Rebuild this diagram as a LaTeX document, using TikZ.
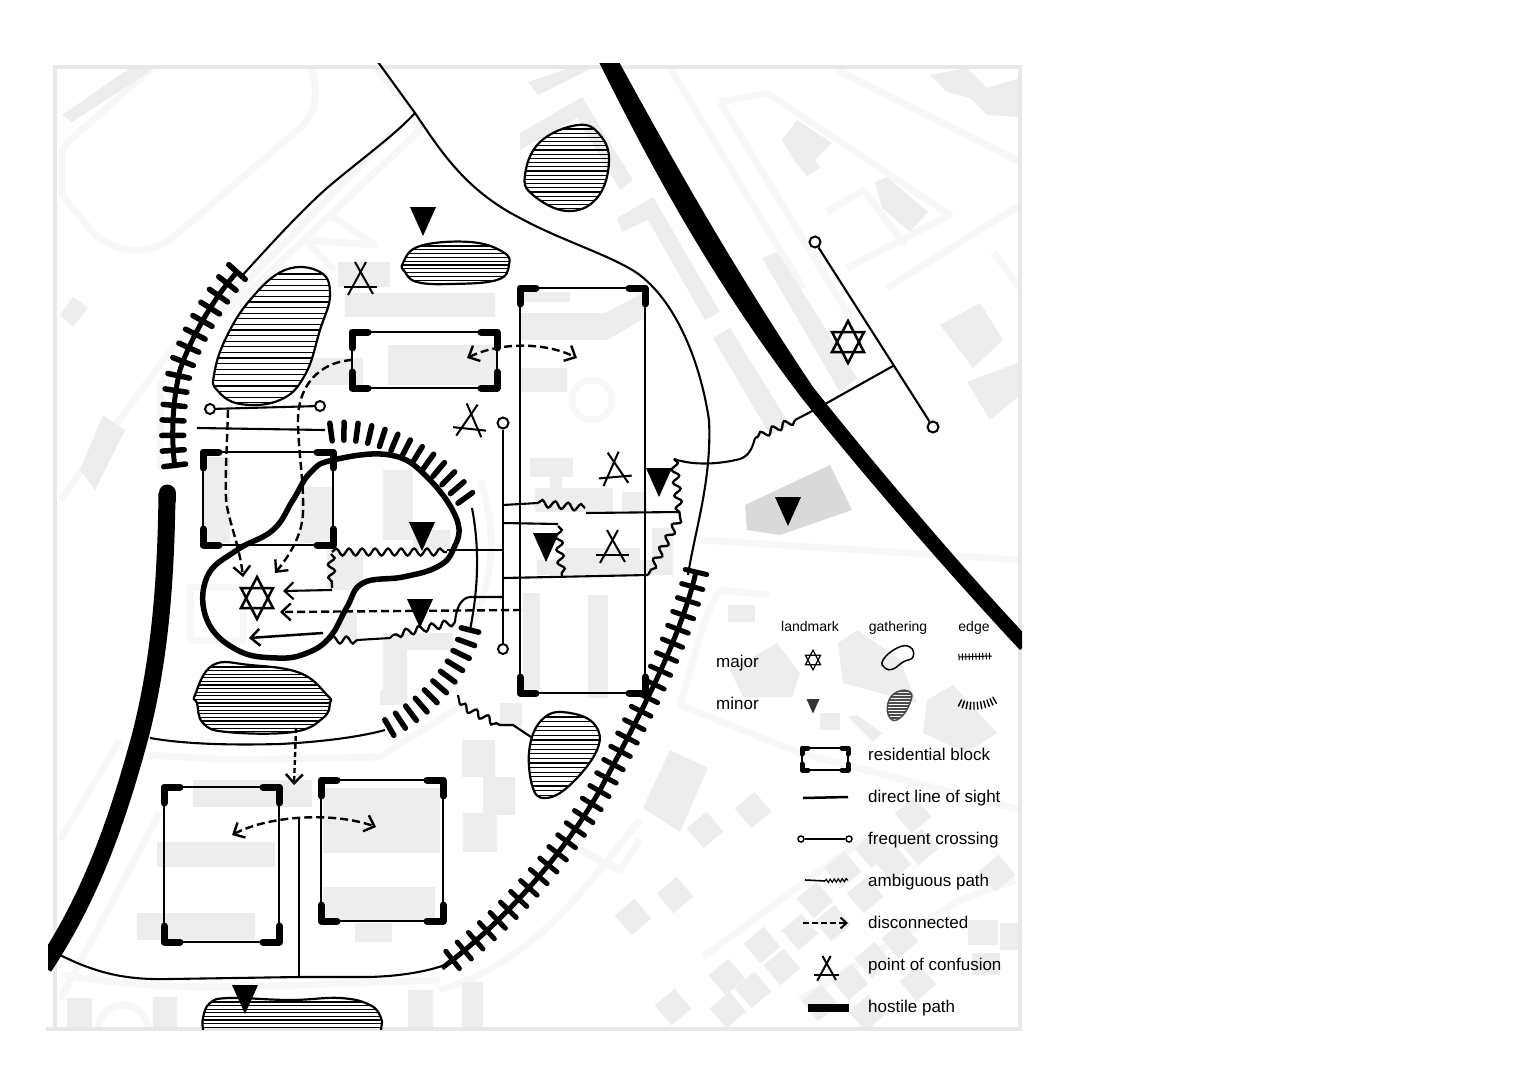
\documentclass[tikz,border=0pt]{standalone}
\usepackage{fontspec}
\setmainfont{Liberation Sans}
\usetikzlibrary{arrows.meta, decorations.markings, decorations.pathmorphing}
\tikzset{
    bldg/.style = {fill = black!7},
    bldgdark/.style = {fill = black!15},
    road/.style = {draw = black!3, line width = 7, line join = round},
    sight/.style = {draw, line width = 2.1},
    thinline/.style = {draw, line width = 1.5},
    hostile/.style = {fill = black},
    ambig/.style = {draw, line width = 2.3, decorate, decoration = {snake, segment length = 13, amplitude = 3.5}},
    discon/.style = {draw, line width = 2.4, dash pattern = on 8pt off 4pt, ->},
    crossend/.style = {circle, draw, fill = white, line width = 2, minimum size = 11, inner sep = 0},
    legendtext/.style = {anchor = base west, inner sep = 0, font = \fontsize{17}{20}\selectfont},
    legendhead/.style = {anchor = base, inner sep = 0, font = \fontsize{14}{16}\selectfont},
    blockcorner/.style = {line width = 7, line cap = round, line join = round},
    landmarkstar/.pic = {
        \draw (0,-21) -- (16,10) -- (-16,10) -- cycle;
        \draw (0,21) -- (16,-10) -- (-16,-10) -- cycle;
    },
    minorsign/.pic = {
        \fill (-13,0) -- (13,0) -- (0,29) -- cycle;
    },
    confusion/.pic = {
        \draw[line width = 2] (-6,-16) -- (12,16);
        \draw[line width = 2] (5,-16) -- (-13,17);
        \draw[line width = 2] (-17,9) -- (16,9);
    },
    softedge/.style n args = {3}{
        decoration = {markings, mark = between positions 0 and 1 step #1 with {
            \draw[line width = #3, line cap = round] (0,-#2) -- (0,#2);
        }},
        postaction = {decorate}
    }
}
\newcommand{\gatherblob}[2]{
    \begin{scope}
        \clip plot[smooth cycle, tension = .7] coordinates {#1};
        \foreach \hy in {#2}
            \draw[line width = 1.2] (100,\hy) -- (700,\hy);
    \end{scope}
    \draw[line width = 2.2] plot[smooth cycle, tension = .7] coordinates {#1};
}
\begin{document}
\begin{tikzpicture}[x = 1pt, y = -1pt, >={Straight Barb[length = 9pt, width = 17pt]}]
    \useasboundingbox (0,0) rectangle (1529,1081);

    \begin{scope}
        \clip (55,67) rectangle (1020,1030);
        \draw[road] (70,140) -- (150,70);
        \draw[road] (310,68) .. controls (322,95) and (312,118) .. (300,128) -- (170,240) .. controls (140,258) and (115,250) .. (95,235) -- (62,195) -- (62,150) -- (70,140);
        \draw[road] (395,130) -- (190,340) -- (160,385) -- (160,470);
        \draw[road] (375,67) -- (415,115) -- (420,130) -- (240,300) -- (175,345) -- (60,500);
        \draw[road] (330,215) -- (375,245) -- (305,240) -- (335,270);
        \draw[road] (480,480) .. controls (498,530) and (498,600) .. (450,653);
        \draw[road] (190,587) rectangle (243,640);
        \draw[road] (150,755) -- (230,760) -- (380,757) -- (470,700);
        \draw[road] (62,975) .. controls (130,985) and (180,990) .. (300,985) -- (440,980);
        \draw[road] (160,812) -- (60,1000);
        \draw[road] (120,740) -- (60,840);
        \draw[road] (670,68) -- (803,288);
        \draw[road] (720,102) -- (853,322);
        \draw[road] (720,102) -- (767,93) -- (950,215) -- (847,268);
        \draw[road] (827,212) -- (863,190) -- (905,245);
        \draw[road] (837,70) -- (1020,162);
        \draw[road] (887,288) -- (1020,205);
        \draw[road] (993,252) -- (1020,288);
        \draw[road] (720,590) .. controls (700,620) and (695,660) .. (680,705) -- (800,753) -- (1020,810);
        \draw[road] (720,590) -- (770,595);
        \draw[road] (700,540) -- (1020,560);
        \draw[road] (703,957) -- (817,873) -- (870,835);
        \draw[road] (800,1000) -- (960,900) -- (1015,880);
        \draw[road] (640,840) -- (620,870) -- (580,850);
        \draw[road] (440,990) .. controls (540,960) and (590,880) .. (640,820);
        \draw[road] (592,400) circle (20);
        \draw[road] (123,1030) circle (25);
        \foreach \xa/\ya/\xb/\yb in {
            338/262/390/287, 345/293/495/317, 388/345/497/385, 310/358/363/385,
            520/292/570/302, 530/458/573/477, 550/475/562/490, 535/488/613/512,
            622/492/647/512, 565/548/640/575, 652/528/673/575, 537/560/673/575,
            203/457/230/543, 300/487/333/543, 383/470/413/540, 413/530/450/550,
            327/550/363/590, 340/613/357/640, 383/633/453/650, 383/633/407/700,
            523/593/540/690, 588/595/608/698, 500/703/522/727, 500/777/515/815,
            193/780/312/807, 157/842/275/867, 137/913/255/940, 323/788/440/853,
            323/887/435/920, 355/923/392/942, 462/740/495/777, 483/777/515/815,
            463/813/497/852, 380/690/407/705, 67/998/92/1027, 153/997/177/1027,
            408/990/433/1027, 462/982/483/1027, 520/368/567/392,
            968/920/998/945, 1000/923/1020/950, 972/953/1000/975
        }
            \fill[bldg] (\xa,\ya) rectangle (\xb,\yb);
        \fill[bldg] (62,115) -- (130,68) -- (155,68) -- (72,122) -- cycle;
        \fill[bldg] (60,315) -- (73,297) -- (88,308) -- (73,327) -- cycle;
        \fill[bldg] (80,470) -- (103,415) -- (125,430) -- (95,490) -- cycle;
        \fill[bldg] (520,313) -- (605,313) -- (645,292) -- (645,318) -- (607,340) -- (520,340) -- cycle;
        \fill[bldg] (528,82) -- (570,68) -- (592,68) -- (538,95) -- cycle;
        \fill[bldg] (520,133) -- (582,97) -- (633,180) -- (620,190) -- (577,118) -- (520,150) -- cycle;
        \fill[bldg] (617,218) -- (653,197) -- (720,312) -- (705,320) -- (648,220) -- (622,232) -- cycle;
        \fill[bldg] (713,338) -- (730,328) -- (790,425) -- (770,435) -- cycle;
        \fill[bldg] (762,258) -- (777,252) -- (857,378) -- (840,392) -- cycle;
        \fill[bldg] (782,140) -- (797,120) -- (832,143) -- (815,160) -- (820,168) -- (807,176) -- (795,162) -- cycle;
        \fill[bldg] (875,182) -- (887,177) -- (928,212) -- (910,232) -- (882,208) -- cycle;
        \fill[bldg] (940,325) -- (980,303) -- (1003,340) -- (973,368) -- cycle;
        \fill[bldg] (967,382) -- (1020,362) -- (1020,395) -- (990,420) -- cycle;
        \fill[bldg] (930,75) -- (967,68) -- (987,88) -- (1020,78) -- (1020,117) -- (987,115) -- (970,98) -- (947,92) -- cycle;
        \fill[bldgdark] (745,505) -- (830,465) -- (852,510) -- (780,535) -- (747,530) -- cycle;
        \fill[bldg] (730,670) -- (777,643) -- (800,673) -- (792,697) -- (743,697) -- cycle;
        \fill[bldg] (838,643) -- (857,630) -- (900,660) -- (917,703) -- (843,683) -- cycle;
        \fill[bldg] (820,713) rectangle (840,730);
        \fill[bldg] (848,717) -- (857,715) -- (882,733) -- (873,742) -- cycle;
        \fill[bldg] (927,700) -- (953,685) -- (997,733) -- (967,753) -- (923,733) -- cycle;
        \fill[bldg] (670,750) -- (708,768) -- (680,832) -- (643,808) -- cycle;
        \fill[bldg] (728,605) rectangle (755,622);
        \foreach \hx/\hy in {
            705/830, 753/810, 913/815, 633/917, 675/895, 727/977, 753/990, 728/1010,
            673/1007, 762/945, 782/967, 800/932, 815/900, 833/923, 865/895, 843/870,
            873/850, 893/863, 900/940, 873/960, 850/982, 820/1003, 918/983, 997/873,
            867/1013, 920/847
        }
            \fill[bldg, shift = {(\hx,\hy)}, rotate = 40] (-13,-13) rectangle (13,13);
    \end{scope}

    \draw[black!9, line width = 4] (55,67) rectangle (1020,1029);
    \draw[black!9, line width = 4] (46,1029) -- (55,1029);

    \begin{scope}
        \clip (48,64) rectangle (1022,1029);

        \gatherblob{(525,175) (540,142) (578,125) (600,135) (609,162) (597,198) (567,211) (533,195)}{129,133.2,...,212}
        \gatherblob{(403,263) (420,246) (470,242) (503,252) (509,265) (497,280) (450,284) (417,282) (405,272)}{246,249.8,...,284}
        \gatherblob{(214,375) (225,340) (250,300) (285,270) (320,272) (330,295) (320,330) (305,375) (280,400) (240,404) (217,390)}{274,279.6,...,405}
        \gatherblob{(195,695) (213,665) (250,665) (300,673) (327,695) (330,703) (323,718) (293,732) (227,732) (203,723) (197,703)}{667,670.6,...,733}
        \gatherblob{(530,745) (545,717) (570,713) (595,725) (597,750) (570,785) (545,798) (532,785)}{717,721.6,...,798}
        \gatherblob{(203,1018) (210,1003) (230,998) (290,1000) (340,998) (370,1005) (381,1018) (381,1030) (380,1045) (292,1060) (204,1045) (203,1030)}{1002,1005.6,...,1030}

        \draw[line width = 5.5] plot[smooth cycle, tension = .7] coordinates {(333,460) (390,455) (427,477) (457,520) (453,550) (437,567) (403,577) (363,583) (347,607) (330,637) (307,653) (277,658) (237,650) (207,620) (207,577) (237,550) (273,530) (293,500) (310,473)};

        \fill[hostile] (598,60) .. controls (650,165) and (710,277) .. (801,397) .. controls (855,465) and (945,570) .. (1020,650) -- (1030,640) .. controls (955,560) and (866,454) .. (813,387) .. controls (730,263) and (670,155) .. (618,60) -- cycle;
        \draw[line width = 17, line cap = round] (167,493) -- (167,500);
        \draw[line width = 17] (167,493) .. controls (166,580) and (160,660) .. (140,737) .. controls (120,810) and (95,890) .. (44,967);

        \coordinate (topjoin) at (415,113);
        \coordinate (leftend) at (240,278);
        \coordinate (midstem) at (299,977);
        \draw[sight] (378,62) -- (topjoin) .. controls (440,150) and (465,190) .. (520,218) .. controls (560,240) and (610,255) .. (637,273) .. controls (675,300) and (700,360) .. (709,420) .. controls (712,480) and (695,530) .. (688,575);
        \draw[sight] (topjoin) .. controls (395,135) and (360,160) .. (327,188) .. controls (300,212) and (270,245) .. (leftend);
        \draw[sight] (60,955) .. controls (100,975) and (130,980) .. (170,979) -- (midstem) -- (370,977) .. controls (400,976) and (425,972) .. (445,965);
        \draw[line width = 2.5] (299,818) -- (midstem);
        \draw[sight] (150,738) .. controls (190,745) and (240,745) .. (280,744) .. controls (320,742) and (360,737) .. (385,730);
        \draw[sight] (197,428) -- (325,430);
        \draw[sight] (472,508) .. controls (480,550) and (478,590) .. (470,630);
    \end{scope}

    \draw[line width = 5, softedge = {15pt}{11}{5.5}] (237,272) .. controls (212,300) and (190,340) .. (180,370) .. controls (174,395) and (170,430) .. (175,468);
    \draw[line width = 5, softedge = {15pt}{11}{5}] (696,572) .. controls (680,640) and (640,715) .. (600,790) .. controls (560,860) and (500,925) .. (442,968);
    \path[softedge = {13pt}{9}{5.5}] (331,432) .. controls (375,426) and (440,455) .. (472,508);
    \path[softedge = {13pt}{9}{5.5}] (470,630) .. controls (460,670) and (430,705) .. (385,730);

    \foreach \xa/\ya/\xb/\yb in {520/288/645/693, 352/332/497/388, 203/452/333/545, 164/787/279/942, 321/780/443/921}{
        \draw[thinline] (\xa,\ya) rectangle (\xb,\yb);
        \draw[blockcorner] (\xa,\ya+16) -- (\xa,\ya) -- (\xa+16,\ya);
        \draw[blockcorner] (\xb-16,\ya) -- (\xb,\ya) -- (\xb,\ya+16);
        \draw[blockcorner] (\xa,\yb-16) -- (\xa,\yb) -- (\xa+16,\yb);
        \draw[blockcorner] (\xb-16,\yb) -- (\xb,\yb) -- (\xb,\yb-16);
    }

    \node[crossend] (plazaa) at (815,242) {};
    \node[crossend] (plazab) at (933,427) {};
    \draw[sight] (plazaa) -- (plazab);
    \node[crossend, minimum size = 10] (northa) at (210,409) {};
    \node[crossend, minimum size = 10] (northb) at (320,406) {};
    \draw[sight] (northa) -- (northb);
    \node[crossend] (spinea) at (503,423) {};
    \node[crossend, minimum size = 10] (spineb) at (503,649) {};
    \draw[sight] (spinea) -- (spineb);

    \coordinate (plazajoin) at (893,366);
    \coordinate (railjoin) at (818,408);
    \draw[sight] (plazajoin) -- (railjoin);
    \draw[sight] (railjoin) -- (795,420);
    \draw[ambig] (795,420) -- (755,438);
    \draw[sight] (755,438) .. controls (752,450) and (748,456) .. (740,459) .. controls (720,464) and (695,466) .. (674,459);
    \draw[ambig] (674,459) -- (680,517);
    \draw[ambig] (680,517) -- (648,575);
    \draw[sight] (503,578) -- (648,575);
    \draw[sight] (503,505) -- (538,503);
    \draw[ambig] (538,503) -- (585,508);
    \draw[sight] (586,513) -- (680,512);
    \draw[sight] (503,523) -- (558,524);
    \draw[ambig] (558,526) -- (562,577);
    \draw[sight] (447,550) -- (503,550);
    \draw[ambig] (332,552) -- (447,552);
    \draw[ambig] (331,554) -- (332,588);
    \draw[sight, ->] (332,590) -- (283,591);
    \draw[sight] (503,597) -- (470,597) .. controls (460,598) and (456,610) .. (455,622);
    \draw[ambig] (455,622) -- (393,635);
    \draw[sight] (393,635) -- (390,638) -- (357,640);
    \draw[ambig] (357,640) -- (328,640);
    \draw[sight, line width = 2.5, ->] (323,633) -- (249,638);
    \draw[discon] (521,610) -- (280,612);
    \draw[discon] (228,410) .. controls (227,450) and (224,490) .. (227,507) .. controls (232,530) and (240,550) .. (243,577);
    \draw[discon] (352,360) .. controls (320,362) and (298,385) .. (298,420) .. controls (298,450) and (304,480) .. (303,513) .. controls (302,535) and (290,555) .. (275,573);
    \draw[discon, <->] (467,358) .. controls (500,342) and (545,342) .. (577,358);
    \draw[discon, <->] (232,835) .. controls (270,815) and (335,812) .. (376,827);
    \draw[discon, dash pattern = on 5pt off 3pt] (296,728) -- (294,785);
    \draw[sight] (458,695) -- (460,705);
    \draw[ambig] (460,705) -- (500,725);
    \draw[sight] (500,725) -- (513,725) -- (531,737);

    \pic[line width = 2.5] (starcore) at (257,598) {landmarkstar};
    \pic[line width = 2.5] (starplaza) at (848,342) {landmarkstar};
    \pic (minorm) at (423,207) {minorsign};
    \pic (minorn) at (659,468) {minorsign};
    \pic (minoro) at (546,533) {minorsign};
    \pic (minorp) at (788,497) {minorsign};
    \pic (minorq) at (422,522) {minorsign};
    \pic (minorr) at (420,599) {minorsign};
    \pic (minors) at (245,985) {minorsign};
    \pic (confa) at (361,278) {confusion};
    \pic[rotate = -6] (confb) at (471,420) {confusion};
    \pic[rotate = 5] (confc) at (615,468) {confusion};
    \pic (confd) at (613,546) {confusion};

    \node[legendhead] (headlandmark) at (810,631) {landmark};
    \node[legendhead] (headgathering) at (898,631) {gathering};
    \node[legendhead] (headedge) at (974,631) {edge};
    \node[legendtext] (rowmajor) at (716,667) {major};
    \node[legendtext] (rowminor) at (716,709) {minor};
    \node[legendtext] (rowblock) at (868,760) {residential block};
    \node[legendtext] (rowsight) at (868,802) {direct line of sight};
    \node[legendtext] (rowcross) at (868,844) {frequent crossing};
    \node[legendtext] (rowambig) at (868,886) {ambiguous path};
    \node[legendtext] (rowdiscon) at (868,928) {disconnected};
    \node[legendtext] (rowconf) at (868,970) {point of confusion};
    \node[legendtext] (rowhostile) at (868,1012) {hostile path};

    \pic[scale = .47, line width = 1.2] (starkey) at (813,660) {landmarkstar};
    \pic[scale = .5, black!80] (minorkey) at (813,699) {minorsign};
    \draw[line width = 1.5] plot[smooth cycle, tension = .8] coordinates {(883,660) (897,648) (910,647) (913,657) (903,662) (893,669) (885,668)};
    \begin{scope}
        \clip plot[smooth cycle, tension = .8] coordinates {(888,703) (897,692) (910,692) (910,703) (900,718) (890,718)};
        \foreach \hy in {691,694,...,719}
            \draw[black!70, line width = 1.2] (880,\hy) -- (920,\hy);
    \end{scope}
    \draw[black!70, line width = 1.5] plot[smooth cycle, tension = .8] coordinates {(888,703) (897,692) (910,692) (910,703) (900,718) (890,718)};
    \draw[line width = 1, softedge = {3.4pt}{3}{1}] (959,657) -- (992,656);
    \path[softedge = {3.6pt}{3.5}{1.4}] (960,703) .. controls (970,708) and (985,706) .. (995,700);
    \draw[line width = 1.4] (802,748) rectangle (848,770);
    \draw[line width = 5, line cap = round, line join = round] (802,754) -- (802,748) -- (808,748);
    \draw[line width = 5, line cap = round, line join = round] (842,748) -- (848,748) -- (848,754);
    \draw[line width = 5, line cap = round, line join = round] (802,764) -- (802,770) -- (808,770);
    \draw[line width = 5, line cap = round, line join = round] (842,770) -- (848,770) -- (848,764);
    \coordinate (sighta) at (803,798);
    \coordinate (sightb) at (848,797);
    \draw[line width = 2.5] (sighta) -- (sightb);
    \node[crossend, minimum size = 6, line width = 1.5] (crossa) at (801,839) {};
    \node[crossend, minimum size = 6, line width = 1.5] (crossb) at (849,839) {};
    \draw[line width = 1.8] (crossa) -- (crossb);
    \draw[line width = 1.6] (805,880) -- (825,881);
    \draw[line width = 1.2, decorate, decoration = {snake, segment length = 4, amplitude = 1.6}] (825,881) -- (848,880);
    \coordinate (disconb) at (848,923);
    \draw[line width = 2, dash pattern = on 6pt off 3pt, ->, >={Straight Barb[length = 6pt, width = 11pt]}] (803,923) -- (disconb);
    \pic[scale = .75, line width = 1.5] (confkey) at (827,968) {confusion};
    \draw[line width = 8] (808,1008) -- (849,1008);
\end{tikzpicture}
\end{document}
